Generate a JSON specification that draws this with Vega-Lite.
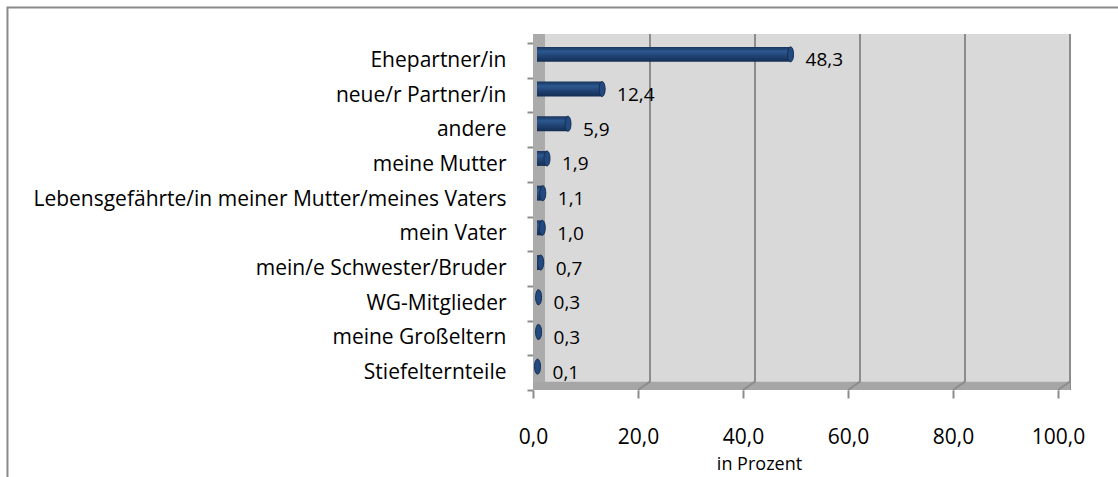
{
  "$schema": "https://vega.github.io/schema/vega-lite/v6.json",
  "autosize": "none",
  "width": 525,
  "height": 347,
  "padding": {"top": 43, "left": 533, "right": 60, "bottom": 87},
  "background": "white",
  "config": {
    "view": {"stroke": null},
    "font": "Open Sans",
    "locale": {"number": {"decimal": ",", "thousands": ".", "grouping": [3], "currency": ["", " €"]}}
  },
  "datasets": {
    "bars": [
      {"kategorie": "Ehepartner/in", "wert": 48.3},
      {"kategorie": "neue/r Partner/in", "wert": 12.4},
      {"kategorie": "andere", "wert": 5.9},
      {"kategorie": "meine Mutter", "wert": 1.9},
      {"kategorie": "Lebensgefährte/in meiner Mutter/meines Vaters", "wert": 1.1},
      {"kategorie": "mein Vater", "wert": 1.0},
      {"kategorie": "mein/e Schwester/Bruder", "wert": 0.7},
      {"kategorie": "WG-Mitglieder", "wert": 0.3},
      {"kategorie": "meine Großeltern", "wert": 0.3},
      {"kategorie": "Stiefelternteile", "wert": 0.1}
    ],
    "grid": [{"g": 20}, {"g": 40}, {"g": 60}, {"g": 80}, {"g": 100}],
    "wall": [{"von": 0, "bis": 100}]
  },
  "layer": [
    {
      "data": {"name": "wall"},
      "mark": {"type": "rect", "fill": "#d9d9d9", "xOffset": 12, "x2Offset": 12, "yOffset": -9, "y2Offset": -9},
      "encoding": {
        "x": {"field": "von", "type": "quantitative", "scale": {"domain": [0, 100]}},
        "x2": {"field": "bis"}
      }
    },
    {
      "data": {"name": "grid"},
      "mark": {"type": "rule", "color": "#8c8c8c", "strokeWidth": 2, "xOffset": 12, "yOffset": -9, "y2Offset": -9},
      "encoding": {
        "x": {"field": "g", "type": "quantitative"}
      }
    },
    {
      "layer": [
        {
          "data": {"name": "wall"},
          "mark": {"type": "rect", "filled": false, "stroke": "#898989", "strokeWidth": 2},
          "encoding": {
            "x": {"datum": -100.1, "type": "quantitative"},
            "x2": {"datum": 120},
            "y": {"datum": 1.1023, "type": "quantitative", "scale": {"domain": [0, 1]}, "axis": null},
            "y2": {"datum": -0.5}
          }
        },
        {
          "data": {"name": "wall"},
          "mark": {"type": "rect", "fill": "#ababab", "x2Offset": 12, "y2Offset": -9},
          "encoding": {
            "x": {"datum": 0, "type": "quantitative"},
            "x2": {"datum": 0},
            "y": {"datum": 0, "type": "quantitative"},
            "y2": {"datum": 1}
          }
        },
        {
          "data": {"name": "wall"},
          "mark": {"type": "rect", "fill": "#a6a6a6", "x2Offset": 12},
          "encoding": {
            "x": {"field": "von", "type": "quantitative"},
            "x2": {"field": "bis"},
            "y": {"datum": 0, "type": "quantitative"},
            "y2": {"datum": 0.024}
          }
        },
        {
          "data": {"name": "grid"},
          "mark": {"type": "rule", "color": "#8c8c8c", "strokeWidth": 2, "x2Offset": 12},
          "encoding": {
            "x": {"field": "g", "type": "quantitative"},
            "x2": {"field": "g"},
            "y": {"datum": 0, "type": "quantitative"},
            "y2": {"datum": 0.024}
          }
        }
      ]
    },
    {
      "data": {"name": "bars"},
      "layer": [
        {
          "mark": {"type": "bar", "fill": {"gradient": "linear", "x1": 0, "y1": 0, "x2": 0, "y2": 1, "stops": [{"offset": 0, "color": "#173459"}, {"offset": 0.3, "color": "#2d5890"}, {"offset": 0.65, "color": "#1f4070"}, {"offset": 1, "color": "#142e52"}]}, "height": {"band": 0.43}, "xOffset": 4, "x2Offset": 4, "yOffset": -6},
          "encoding": {
            "y": {
              "field": "kategorie", "type": "nominal", "sort": null, "title": null,
              "scale": {"paddingInner": 0, "paddingOuter": 0},
              "axis": {
                "orient": "left",
                "domain": false, "tickBand": "extent", "tickColor": "#8c8c8c", "tickWidth": 2, "tickSize": 6,
                "labelFontSize": 21, "labelColor": "#000000", "labelPadding": 21, "labelLimit": 600
              }
            },
            "x": {
              "field": "wert", "type": "quantitative",
              "title": "in Prozent",
              "axis": {
                "values": [0, 20, 40, 60, 80, 100], "format": ".1f", "grid": false, "domain": false, "labelFlush": false,
                "tickColor": "#8c8c8c", "tickWidth": 2, "tickSize": 8,
                "labelFontSize": 21, "labelColor": "#000000", "labelPadding": 28,
                "titleFontSize": 18, "titleFontWeight": "normal", "titleColor": "#000000",
                "titleX": 226, "titlePadding": 8
              }
            },
            "x2": {"datum": 0}
          }
        },
        {
          "mark": {"type": "point", "shape": "M 0 -1 A 0.4 1 0 1 1 0 1 A 0.4 1 0 1 1 0 -1 Z", "size": 225, "filled": true, "fill": "#234a80", "stroke": "#142e52", "strokeWidth": 1, "opacity": 1, "xOffset": 4, "yOffset": -6},
          "encoding": {
            "y": {"field": "kategorie", "type": "nominal", "sort": null},
            "x": {"field": "wert", "type": "quantitative"}
          }
        },
        {
          "mark": {"type": "text", "align": "left", "baseline": "middle", "dx": 19, "fontSize": 19, "color": "#000000"},
          "encoding": {
            "y": {"field": "kategorie", "type": "nominal", "sort": null},
            "x": {"field": "wert", "type": "quantitative"},
            "text": {"field": "wert", "type": "quantitative", "format": ".1f"}
          }
        }
      ]
    }
  ],
  "resolve": {"scale": {"y": "independent"}}
}
